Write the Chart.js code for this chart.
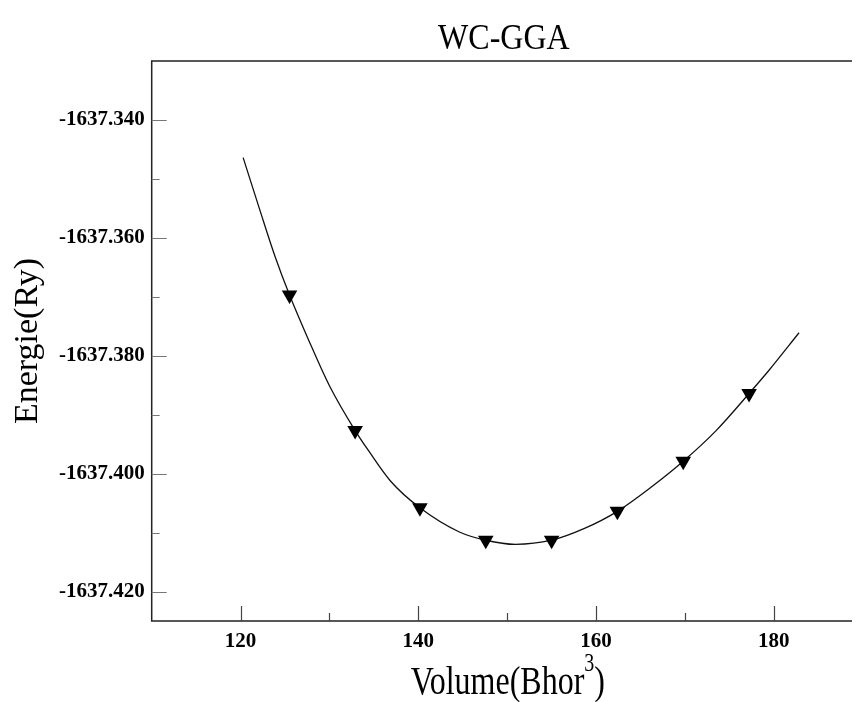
<!DOCTYPE html>
<html lang="en">
  <head>
    <meta charset="UTF-8" />
    <title>WC-GGA Energie vs Volume</title>
    <script src="https://cdn.jsdelivr.net/npm/chart.js"></script>
    <style>
      html, body { margin: 0; padding: 0; overflow: hidden; background: #fff; }
      canvas { display: block; }
    </style>
  </head>
  <body>
    <canvas id="evChart" width="861" height="702"></canvas>
    <script>
      // calculated points (triangles)
      const volumes = [125.51, 132.89, 140.18, 147.59, 155.0, 162.4, 169.81, 177.22];
      const energies = [-1637.3697, -1637.3927, -1637.4058, -1637.4113, -1637.4113, -1637.4064, -1637.3979, -1637.3864];

      // fitted curve
      const fitVolumes = [120.29, 122.11, 123.89, 125.51, 127.59, 130.0, 132.89, 134.44, 136.84, 140.18, 144.62,
        147.59, 150.92, 155.0, 158.7, 162.4, 166.11, 169.81, 173.51, 177.22, 179.44, 182.84];
      const fitEnergies = [-1637.3464, -1637.355, -1637.3632, -1637.3697, -1637.3771, -1637.3851, -1637.3927,
        -1637.3962, -1637.4012, -1637.4058, -1637.4099, -1637.4113, -1637.412, -1637.4113, -1637.4093, -1637.4064,
        -1637.4024, -1637.3979, -1637.3927, -1637.3864, -1637.3825, -1637.3761];

      const xMajorTicks = [120, 140, 160, 180];
      const xMinorTicks = [130, 150, 170];
      const yMajorTicks = [-1637.34, -1637.36, -1637.38, -1637.4, -1637.42];
      const yMinorTicks = [-1637.35, -1637.37, -1637.39, -1637.41];

      const serif = "'Liberation Serif', 'DejaVu Serif', serif";

      // frame (left, top, bottom) and inward tick marks
      const framePlugin = {
        id: "frame",
        afterDatasetsDraw(chart) {
          const { ctx, chartArea: a, scales } = chart;
          ctx.save();
          ctx.strokeStyle = "#222";
          ctx.lineWidth = 1.5;
          ctx.beginPath();
          ctx.moveTo(a.right, a.top);
          ctx.lineTo(a.left, a.top);
          ctx.lineTo(a.left, a.bottom);
          ctx.lineTo(a.right, a.bottom);
          ctx.stroke();

          ctx.lineWidth = 1.2;
          ctx.strokeStyle = "#444";
          ctx.beginPath();
          xMajorTicks.concat(xMinorTicks).forEach((v) => {
            const len = xMajorTicks.includes(v) ? 15 : 8;
            const x = Math.round(scales.x.getPixelForValue(v)) + 0.5;
            ctx.moveTo(x, a.bottom);
            ctx.lineTo(x, a.bottom - len);
          });
          ctx.stroke();
          ctx.strokeStyle = "#777";
          ctx.beginPath();
          yMajorTicks.concat(yMinorTicks).forEach((v) => {
            const len = yMajorTicks.includes(v) ? 15 : 8;
            const y = Math.round(scales.y.getPixelForValue(v)) + 0.5;
            ctx.moveTo(a.left, y);
            ctx.lineTo(a.left + len, y);
          });
          ctx.stroke();
          ctx.restore();
        },
      };

      // title and axis titles (the original font is a condensed Times)
      const titlesPlugin = {
        id: "titles",
        afterDraw(chart) {
          const { ctx, chartArea: a } = chart;
          const cx = (a.left + a.right) / 2 + 2;
          ctx.save();
          ctx.fillStyle = "#000";
          ctx.textAlign = "center";
          ctx.textBaseline = "alphabetic";

          // main title
          ctx.save();
          ctx.translate(cx, 49);
          ctx.scale(1, 1.15);
          ctx.font = "32px " + serif;
          ctx.fillText("WC-GGA", 0, 0);
          ctx.restore();

          // x title with superscript
          ctx.save();
          ctx.translate(cx + 4, 694);
          ctx.scale(1, 1.22);
          const main = "Volume(Bhor";
          ctx.font = "32px " + serif;
          const w1 = ctx.measureText(main).width;
          const w3 = ctx.measureText(")").width;
          ctx.font = "20px " + serif;
          const ws = ctx.measureText("3").width;
          const x0 = -(w1 + ws + w3) / 2;
          ctx.textAlign = "left";
          ctx.font = "32px " + serif;
          ctx.fillText(main, x0, 0);
          ctx.font = "20px " + serif;
          ctx.fillText("3", x0 + w1, -19);
          ctx.font = "32px " + serif;
          ctx.fillText(")", x0 + w1 + ws, 0);
          ctx.restore();

          // y title
          ctx.save();
          ctx.translate(37, (a.top + a.bottom) / 2);
          ctx.rotate(-Math.PI / 2);
          ctx.font = "34px " + serif;
          ctx.textAlign = "center";
          ctx.fillText("Energie(Ry)", 0, 0);
          ctx.restore();

          ctx.restore();
        },
      };

      const ctx = document.getElementById("evChart").getContext("2d");
      const evChart = new Chart(ctx, {
        type: "scatter",
        data: {
          datasets: [
            {
              label: "points",
              data: volumes.map((v, i) => ({ x: v, y: energies[i] })),
              pointStyle: "triangle",
              rotation: 180,
              pointRadius: 9,
              pointHoverRadius: 9,
              backgroundColor: "#000",
              borderColor: "#000",
              borderWidth: 0,
              showLine: false,
              order: 0,
            },
            {
              label: "fit",
              data: fitVolumes.map((v, i) => ({ x: v, y: fitEnergies[i] })),
              showLine: true,
              borderColor: "#111",
              borderWidth: 1.3,
              pointRadius: 0,
              cubicInterpolationMode: "monotone",
              order: 1,
            },
          ],
        },
        options: {
          responsive: false,
          animation: false,
          layout: { padding: { top: 61, left: 0, right: 0, bottom: 0 } },
          plugins: {
            legend: { display: false },
            tooltip: { enabled: false },
            title: { display: false },
          },
          scales: {
            x: {
              type: "linear",
              min: 110,
              max: 188.8,
              grid: { display: false, drawTicks: false },
              border: { display: false },
              afterBuildTicks: (s) => {
                s.ticks = xMajorTicks.map((v) => ({ value: v }));
              },
              afterFit: (s) => {
                s.height = 81;
                s.paddingLeft = 0;
                s.paddingRight = 0;
              },
              ticks: {
                color: "#000",
                padding: 8,
                font: { family: serif, size: 21, weight: "bold" },
                callback: (v) => String(v),
              },
            },
            y: {
              type: "linear",
              min: -1637.425,
              max: -1637.33,
              grid: { display: false, drawTicks: false },
              border: { display: false },
              afterBuildTicks: (s) => {
                s.ticks = yMajorTicks.map((v) => ({ value: v }));
              },
              afterFit: (s) => {
                s.width = 151.7;
                s.paddingTop = 0;
                s.paddingBottom = 0;
              },
              ticks: {
                color: "#000",
                padding: 7,
                font: { family: serif, size: 21, weight: "bold" },
                callback: (v) => Number(v).toFixed(3),
              },
            },
          },
        },
        plugins: [framePlugin, titlesPlugin],
      });
    </script>
  </body>
</html>
